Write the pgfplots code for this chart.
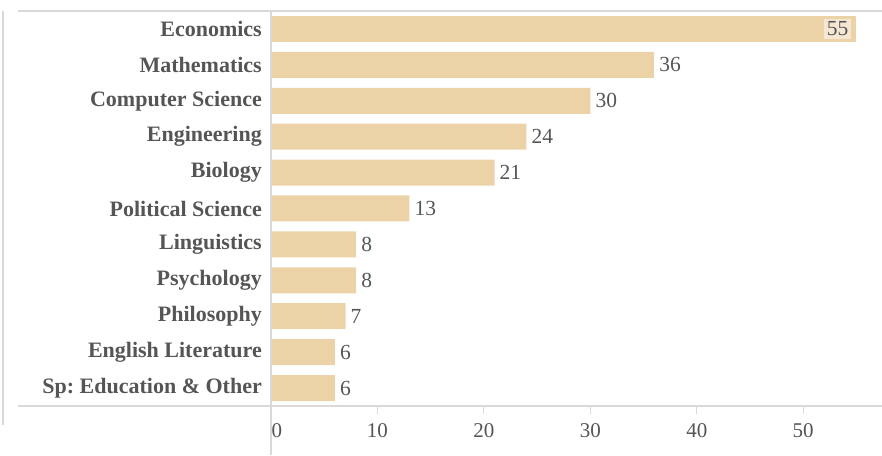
\documentclass[border=0pt]{standalone}
\usepackage{pgfplots}
\pgfplotsset{compat=1.18}
\usepackage{fontspec}
\setmainfont{Liberation Serif}
\frenchspacing
\definecolor{barc}{HTML}{ECD2A7}
\definecolor{txt}{HTML}{555555}
\definecolor{rulec}{HTML}{D9D9D9}
\definecolor{lblbg}{HTML}{F5E7D2}
\begin{document}
\begin{tikzpicture}
\useasboundingbox (-271pt,-49pt) rectangle (611pt,406pt);
\begin{axis}[
  scale only axis, width=611pt, height=395pt,
  xbar, bar width=26pt, bar shift=0pt,
  xmin=0, xmax=57.4, ymin=-0.5, ymax=10.5,
  axis line style={draw=none},
  xtick={10,20,30,40,50},
  extra x ticks={0},
  extra x tick style={major tick length=0pt, tick label style={xshift=6pt, yshift=-8pt}},
  xtick pos=bottom,
  ytick={0,...,10},
  yticklabels={Sp: Education \& Other,English Literature,Philosophy,Psychology,Linguistics,Political Science,Biology,Engineering,Computer Science,Mathematics,Economics},
  tick align=outside, major tick length=8pt,
  x tick style={rulec, line width=1pt}, y tick style={draw=none},
  x tick label style={font=\fontsize{21}{24}\selectfont, text=txt, yshift=-6pt},
  y tick label style={font=\fontsize{22}{26}\selectfont\bfseries, text=txt, inner sep=0pt, xshift=-1pt},
  /pgf/number format/assume math mode=true,
  clip=false,
]
\addplot[fill=barc, draw=none,
  nodes near coords, nodes near coords align=horizontal,
  every node near coord/.style={anchor=west, inner sep=0pt, xshift=5pt, text=txt, font=\fontsize{21.5}{24}\selectfont}]
  coordinates {(36,9) (30,8) (24,7) (21,6) (13,5) (8,4) (8,3) (7,2) (6,1) (6,0)};
\addplot[fill=barc, draw=none,
  nodes near coords, nodes near coords align=horizontal,
  every node near coord/.style={anchor=east, inner sep=3pt, xshift=-5pt, fill=lblbg, text=txt, font=\fontsize{21.5}{24}\selectfont}]
  coordinates {(55,10)};
\draw[rulec, line width=1.2pt] ([xshift=-253pt]axis description cs:0,1) -- (axis description cs:1,1);
\draw[rulec, line width=1.2pt] ([xshift=-253pt]axis description cs:0,0) -- (axis description cs:1,0);
\draw[rulec, line width=1.2pt] (axis description cs:0,1) -- ([yshift=-49pt]axis description cs:0,0);
\draw[rulec, line width=1.2pt] ([xshift=-268pt]axis description cs:0,1) -- ([xshift=-268pt,yshift=-19pt]axis description cs:0,0);
\end{axis}
\end{tikzpicture}
\end{document}
